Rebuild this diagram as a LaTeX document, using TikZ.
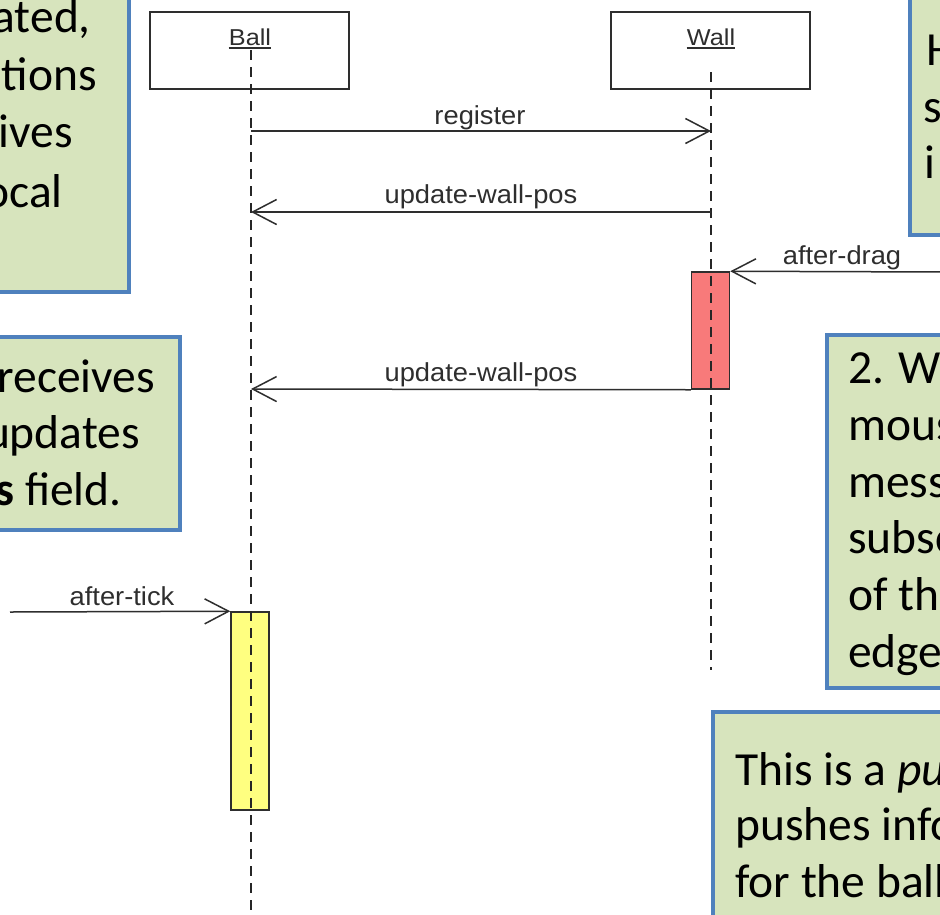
\documentclass[tikz,border=0pt]{standalone}
\usepackage{graphicx}
\usepackage{fontspec}
\setmainfont{Carlito}
\newfontfamily\arialf{Liberation Sans}
\usetikzlibrary{arrows.meta}
\definecolor{notefill}{HTML}{D7E4BD}
\definecolor{noteedge}{HTML}{4F81BD}
\definecolor{actred}{HTML}{F87A7A}
\definecolor{actyel}{HTML}{FFFF80}
\definecolor{ink}{HTML}{2E2E2E}
\begin{document}
\begin{tikzpicture}[x=1pt,y=-1pt,
  note/.style={fill=notefill,draw=noteedge,line width=3.5pt},
  notetxt/.style={font=\fontsize{47.5}{57}\selectfont,inner sep=0pt,text=black},
  head/.style={draw=ink,line width=1.5pt,minimum width=199pt,minimum height=77pt,inner sep=0pt,fill=white},
  headlbl/.style={font=\arialf\fontsize{23}{27}\selectfont,text=ink,inner sep=0pt},
  msglbl/.style={font=\arialf\fontsize{26}{30}\selectfont,text=ink,inner sep=0pt},
  life/.style={draw=black!85,line width=1.3pt,dash pattern=on 10pt off 7pt},
  msg/.style={draw=ink,line width=1.5pt,-{Straight Barb[length=24pt,width=25pt,line width=1.5pt]}},
  act/.style={draw=ink,line width=1.5pt,minimum width=38pt,inner sep=0pt}
]
\useasboundingbox (0,0) rectangle (940,914);
\fill[white] (0,0) rectangle (940,914);
\clip (0,0) rectangle (940,914);

% note boxes
\draw[note] (-10,-10) rectangle (129,292);
\node[notetxt,anchor=base east] (n1a) at (91,32) {ated,};
\node[notetxt,anchor=base east] (n1b) at (97,90) {ations};
\node[notetxt,anchor=base east] (n1c) at (73,147) {ives};
\node[notetxt,anchor=base east] (n1d) at (63,207) {ocal};

\draw[note] (-10,337) rectangle (180,530);
\node[notetxt,anchor=base east] (n2a) at (155,392) {receives};
\node[notetxt,anchor=base east] (n2b) at (140,448) {updates};
\node[notetxt,anchor=base east] (n2c) at (122,505) {\textbf{s} field.};

\draw[note] (910,-10) rectangle (960,235);
\node[notetxt,anchor=base west] (n3a) at (926,65) {H};
\node[notetxt,anchor=base west] (n3b) at (923,122) {s};
\node[notetxt,anchor=base west] (n3c) at (924,178) {i};

\draw[note] (827,335) rectangle (960,688);
\node[notetxt,anchor=base west] (n4a) at (848,383) {2. W};
\node[notetxt,anchor=base west] (n4b) at (848,440) {mous};
\node[notetxt,anchor=base west] (n4c) at (848,497) {mess};
\node[notetxt,anchor=base west] (n4d) at (848,553) {subsc};
\node[notetxt,anchor=base west] (n4e) at (848,610) {of the};
\node[notetxt,anchor=base west] (n4f) at (848,667) {edge};

\draw[note] (713,712) rectangle (960,940);
\node[notetxt,anchor=base west] (n5a) at (735,785) {This is a \textit{pu}};
\node[notetxt,anchor=base west] (n5b) at (735,840) {pushes info};
\node[notetxt,anchor=base west] (n5c) at (735,897) {for the ball};

% heads
\node[head] (ball) at (249.5,50.5) {};
\node[head] (wall) at (710.5,50.5) {};
\node[headlbl,anchor=base] (ballLbl) at (250,45) {\scalebox{1.1}[1]{Ball}};
\node[headlbl,anchor=base] (wallLbl) at (711,45) {\scalebox{1.1}[1]{Wall}};
\draw[ink,line width=1.2pt] ([yshift=-3pt]ballLbl.base west) -- ([yshift=-3pt]ballLbl.base east);
\draw[ink,line width=1.2pt] ([yshift=-3pt]wallLbl.base west) -- ([yshift=-3pt]wallLbl.base east);

% activations
\node[act,fill=actred,minimum height=117pt] (wallAct) at (710.5,330.5) {};
\node[act,fill=actyel,minimum height=198pt] (ballAct) at (250,711) {};

% lifelines
\coordinate (ballTop) at (251,50);
\coordinate (ballBot) at (251,918);
\coordinate (wallTop) at (711,72);
\coordinate (wallBot) at (711,670);
\draw[life] (ballTop) -- (ballBot);
\draw[life] (wallTop) -- (wallBot);

% messages
\coordinate (m1s) at (251,131);
\coordinate (m1e) at (711,131);
\draw[msg] (m1s) -- (m1e);
\node[msglbl,anchor=base] (m1l) at (480,124) {\scalebox{1.05}[1]{register}};

\coordinate (m2s) at (711,212);
\coordinate (m2e) at (251,212);
\draw[msg] (m2s) -- (m2e);
\node[msglbl,anchor=base] (m2l) at (481,203) {\scalebox{1.05}[1]{update-wall-pos}};

\coordinate (m3s) at (945,272);
\draw[msg] (m3s) -- (wallAct.north east);
\node[msglbl,anchor=base] (m3l) at (842,264) {\scalebox{1.05}[1]{after-drag}};

\coordinate (m4e) at (251,389);
\draw[msg] (wallAct.south west) -- (m4e);
\node[msglbl,anchor=base] (m4l) at (481,381) {\scalebox{1.05}[1]{update-wall-pos}};

\coordinate (m5s) at (10,612);
\draw[msg] (m5s) -- (ballAct.north west);
\node[msglbl,anchor=base] (m5l) at (122,605) {\scalebox{1.05}[1]{after-tick}};
\end{tikzpicture}
\end{document}
